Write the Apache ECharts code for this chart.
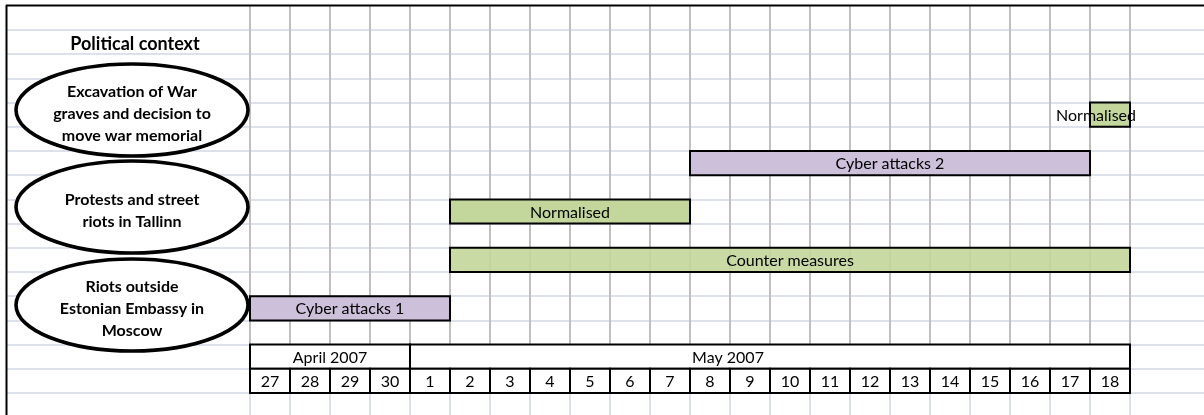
<!DOCTYPE html>
<html>
<head>
<meta charset="utf-8">
<script src="https://cdn.jsdelivr.net/npm/echarts@6/dist/echarts.min.js"></script>
<style>
  html, body { margin: 0; padding: 0; background: #ffffff; }
  #chart { width: 1204px; height: 415px; }
</style>
</head>
<body>
<div id="chart"></div>
<script>
// Day columns of the timeline (27 April – 18 May 2007)
const days = ['27', '28', '29', '30', '1', '2', '3', '4', '5', '6', '7',
              '8', '9', '10', '11', '12', '13', '14', '15', '16', '17', '18'];

// Month header: first and last day column of each month, and where its caption sits
const months = ['April 2007', 'May 2007'];
const monthFirst = [0, 4];
const monthLast = [3, 21];
const monthCaptionAt = [2, 11.95];

// Timeline activities (first and last day column, inclusive) and the sheet row they sit on
const taskNames = ['Normalised', 'Cyber attacks 2', 'Normalised', 'Counter measures', 'Cyber attacks 1'];
const taskFirst = [21, 11, 5, 5, 0];
const taskLast = [21, 20, 10, 21, 4];
const taskRow = [3, 5, 7, 9, 11];
const taskKind = ['response', 'attack', 'response', 'measures', 'attack'];

// Political context bubbles on the left
const contextTitle = 'Political context';
const contextEvents = [
  ['Excavation of War', 'graves and decision to', 'move war memorial'],
  ['Protests and street', 'riots in Tallinn'],
  ['Riots outside', 'Estonian Embassy in', 'Moscow']
];

const ROWS = 15;
const MONTH_ROW = 13;
const DAY_ROW = 14;
const FONT = 'Lato, "Open Sans", sans-serif';
const LABEL_FONT = '16px ' + FONT;

const kindFill = {
  attack: '#ccc0da',
  response: '#c3d69b',
  measures: 'rgba(195, 214, 155, 0.9)'
};

const taskData = taskNames.map((name, i) => [taskFirst[i], taskLast[i] + 1, taskRow[i], name, taskKind[i]]);
const monthData = months.map((m, i) => [monthFirst[i], monthLast[i] + 1, MONTH_ROW, m, monthCaptionAt[i]]);
const dayData = days.map((d, i) => [i, i + 1, DAY_ROW, d]);

function cellRect(api) {
  const p0 = api.coord([api.value(0), api.value(2)]);
  const p1 = api.coord([api.value(1), api.value(2) + 1]);
  return { x: p0[0], y: p0[1], width: p1[0] - p0[0], height: p1[1] - p0[1] };
}

const chart = echarts.init(document.getElementById('chart'), null, { renderer: 'canvas' });

// Left-hand context ellipses
const ellipseCentres = [[132, 110], [132, 207], [132, 305]];
const graphics = [
  { type: 'line', z: 50, shape: { x1: 6, y1: 5.5, x2: 1204, y2: 5.5 }, style: { stroke: '#000', lineWidth: 2 } },
  { type: 'line', z: 50, shape: { x1: 6.5, y1: 5, x2: 6.5, y2: 415 }, style: { stroke: '#000', lineWidth: 2 } },
  { type: 'text', z: 50, x: 135, y: 44,
    style: { text: contextTitle, font: 'bold 18px ' + FONT, fill: '#000',
             align: 'center', verticalAlign: 'middle' } }
];
contextEvents.forEach((lines, i) => {
  const c = ellipseCentres[i];
  graphics.push({
    type: 'ellipse', z: 40,
    shape: { cx: c[0], cy: c[1], rx: 116, ry: 46 },
    style: { fill: '#fff', stroke: '#000', lineWidth: 3.6 }
  });
  graphics.push({
    type: 'text', z: 45, x: c[0], y: c[1] + 4,
    style: {
      text: lines.join('\n'), font: 'bold 16px ' + FONT, fill: '#000',
      align: 'center', verticalAlign: 'middle', lineHeight: 22
    }
  });
});

const option = {
  animation: false,
  backgroundColor: '#ffffff',
  grid: [
    { left: 7, right: 0, top: 30, height: 363 },          // sheet rows
    { left: 250, width: 880, top: 5, height: 340 },       // day columns above the header
    { left: 250, width: 880, top: 345, height: 70 },      // day columns in and below the header
    { left: 250, width: 880, top: 30, height: 363 }       // timeline drawing area
  ],
  xAxis: [
    { gridIndex: 0, type: 'value', min: 0, max: 1, show: false },
    { gridIndex: 1, type: 'value', min: 0, max: days.length, interval: 1,
      axisLine: { show: false }, axisTick: { show: false }, axisLabel: { show: false },
      splitLine: { show: true, lineStyle: { color: '#bfbfbf', width: 2 } } },
    { gridIndex: 2, type: 'value', min: 0, max: days.length, interval: 1,
      axisLine: { show: false }, axisTick: { show: false }, axisLabel: { show: false },
      splitLine: { show: true, lineStyle: { color: '#d0d7e5', width: 1.5 } } },
    { gridIndex: 3, type: 'value', min: 0, max: days.length, show: false }
  ],
  yAxis: [
    { gridIndex: 0, type: 'value', min: 0, max: ROWS, interval: 1, inverse: true,
      axisLine: { show: false }, axisTick: { show: false }, axisLabel: { show: false },
      splitLine: { show: true, lineStyle: { color: '#d0d7e5', width: 1.5 } } },
    { gridIndex: 1, type: 'value', show: false },
    { gridIndex: 2, type: 'value', show: false },
    { gridIndex: 3, type: 'value', min: 0, max: ROWS, inverse: true, show: false }
  ],
  graphic: { elements: graphics },
  series: [
    {
      name: 'Activities',
      type: 'custom',
      xAxisIndex: 3, yAxisIndex: 3,
      z: 10,
      data: taskData,
      renderItem: function (params, api) {
        const r = cellRect(api);
        const kind = taskData[params.dataIndex][4];
        const single = (api.value(1) - api.value(0)) === 1;
        // a one-day bar carries its caption spilling out to the left
        const tx = r.x + r.width / 2 + (single ? -14 : 0);
        return {
          type: 'group',
          children: [
            { type: 'rect', shape: r, style: { fill: kindFill[kind], stroke: '#000', lineWidth: 2 } },
            { type: 'text', x: tx, y: r.y + r.height / 2 + 1, z2: 5,
              style: { text: api.value(3), font: LABEL_FONT, fill: '#000',
                       align: 'center', verticalAlign: 'middle' } }
          ]
        };
      }
    },
    {
      name: 'Months',
      type: 'custom',
      xAxisIndex: 3, yAxisIndex: 3,
      z: 12,
      data: monthData,
      renderItem: function (params, api) {
        const r = cellRect(api);
        const cx = api.coord([api.value(4), api.value(2)])[0];
        return {
          type: 'group',
          children: [
            { type: 'rect', shape: r, style: { fill: '#fff', stroke: '#000', lineWidth: 2 } },
            { type: 'text', x: cx, y: r.y + r.height / 2 + 1,
              style: { text: api.value(3), font: LABEL_FONT, fill: '#000',
                       align: 'center', verticalAlign: 'middle' } }
          ]
        };
      }
    },
    {
      name: 'Days',
      type: 'custom',
      xAxisIndex: 3, yAxisIndex: 3,
      z: 12,
      data: dayData,
      renderItem: function (params, api) {
        const r = cellRect(api);
        return {
          type: 'group',
          children: [
            { type: 'rect', shape: r, style: { fill: '#fff', stroke: '#000', lineWidth: 2 } },
            { type: 'text', x: r.x + r.width / 2, y: r.y + r.height / 2 + 1,
              style: { text: api.value(3), font: LABEL_FONT, fill: '#000',
                       align: 'center', verticalAlign: 'middle' } }
          ]
        };
      }
    }
  ]
};

chart.setOption(option);
</script>
</body>
</html>
